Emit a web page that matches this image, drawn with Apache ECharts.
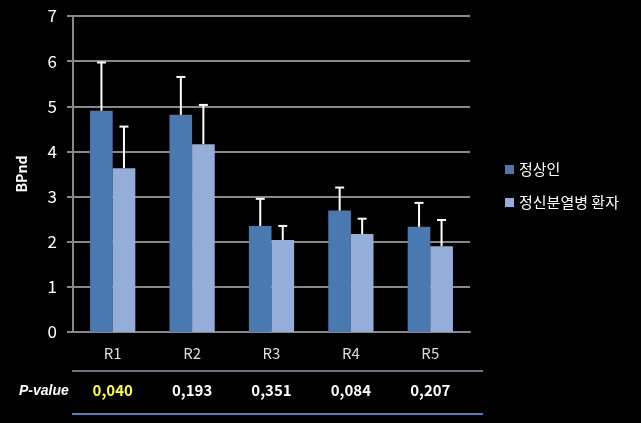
<!DOCTYPE html>
<html><head><meta charset="utf-8">
<script src="https://cdn.jsdelivr.net/npm/echarts@6/dist/echarts.min.js"></script>
<style>html,body{margin:0;padding:0;background:#000;}#c{width:641px;height:423px;}</style>
</head><body><div id="c"></div>
<script>
const categories = ['R1','R2','R3','R4','R5'];
const normalMean = [4.90, 4.81, 2.35, 2.69, 2.33];
const normalErr  = [1.07, 0.84, 0.60, 0.51, 0.53];
const patientMean = [3.63, 4.16, 2.04, 2.17, 1.90];
const patientErr  = [0.92, 0.87, 0.31, 0.34, 0.58];
const pValues = ['0,040','0,193','0,351','0,084','0,207'];
const seriesNames = ['정상인','정신분열병 환자'];
const yTicks = [0,1,2,3,4,5,6,7];

const chart = echarts.init(document.getElementById('c'));
const FONT = '"Noto Sans CJK KR", "Noto Sans", sans-serif';
const colors = ['#4a78b0','#95aed9'];

function errSeries(idx, means, errs){
  return {
    type:'custom', xAxisIndex:0, yAxisIndex:0, z:10, silent:true,
    data: means.map((m,i)=>[i, m, m+errs[i]]),
    renderItem: function(params, api){
      const x = api.value(0);
      const lo = api.coord([x, api.value(1)]);
      const hi = api.coord([x, api.value(2)]);
      const size = api.size([1,0]);
      const bw = size[0]*0.567/2;
      const cx = lo[0] + (idx===0 ? -bw/2 : bw/2);
      const cap = 4.5;
      return {type:'group', children:[
        {type:'line', shape:{x1:cx,y1:lo[1],x2:cx,y2:hi[1]}, style:{stroke:'#fff',lineWidth:2}},
        {type:'line', shape:{x1:cx-cap,y1:hi[1],x2:cx+cap,y2:hi[1]}, style:{stroke:'#fff',lineWidth:2}}
      ]};
    }
  };
}

chart.setOption({
  backgroundColor:'#000',
  animation:false,
  legend:{
    orient:'vertical', left:500, top:157, itemGap:18,
    itemWidth:9, itemHeight:9, icon:'rect',
    textStyle:{color:'#fff', fontSize:15, fontFamily:FONT},
    data: seriesNames
  },
  grid:{left:73, right:171, top:16, bottom:91},
  xAxis:[{
    type:'category', data:categories,
    axisLine:{lineStyle:{color:'#888',width:2}},
    axisTick:{show:false},
    axisLabel:{color:'#ddd', fontSize:15, fontFamily:FONT, margin:14}
  },{
    type:'category', data:pValues, position:'bottom', offset:51,
    axisLine:{show:false}, axisTick:{show:false},
    axisLabel:{fontSize:15, fontWeight:'bold', fontFamily:FONT, margin:0,
      color:function(v,i){return i===0?'#ffff33':'#fff';}}
  }],
  yAxis:{
    type:'value', min:yTicks[0], max:yTicks[yTicks.length-1], interval:1,
    name:'BPnd', nameLocation:'middle', nameGap:44,
    nameTextStyle:{color:'#fff', fontSize:14, fontWeight:'bold', fontFamily:FONT},
    axisLine:{show:true, lineStyle:{color:'#888',width:2}},
    axisTick:{show:true, length:6, lineStyle:{color:'#888',width:2}},
    axisLabel:{color:'#fff', fontSize:17, fontFamily:FONT, margin:16},
    splitLine:{lineStyle:{color:'#888',width:2}}
  },
  graphic:[
    {type:'line', shape:{x1:72,y1:371,x2:483,y2:371}, style:{stroke:'#8a9bb8',lineWidth:1.5}},
    {type:'line', shape:{x1:72,y1:414,x2:483,y2:414}, style:{stroke:'#4f81bd',lineWidth:2}},
    {type:'text', left:19, top:384, style:{text:'P-value', fill:'#fff', fontSize:14, fontStyle:'italic', fontWeight:'bold', fontFamily:'Arial, "Liberation Sans", sans-serif'}}
  ],
  series:[
    {name:seriesNames[0], type:'bar', data:normalMean, itemStyle:{color:colors[0]}, barGap:'0%', barCategoryGap:'43%'},
    {name:seriesNames[1], type:'bar', data:patientMean, itemStyle:{color:colors[1]}, barGap:'0%', barCategoryGap:'43%'},
    errSeries(0, normalMean, normalErr),
    errSeries(1, patientMean, patientErr)
  ]
});
</script></body></html>
